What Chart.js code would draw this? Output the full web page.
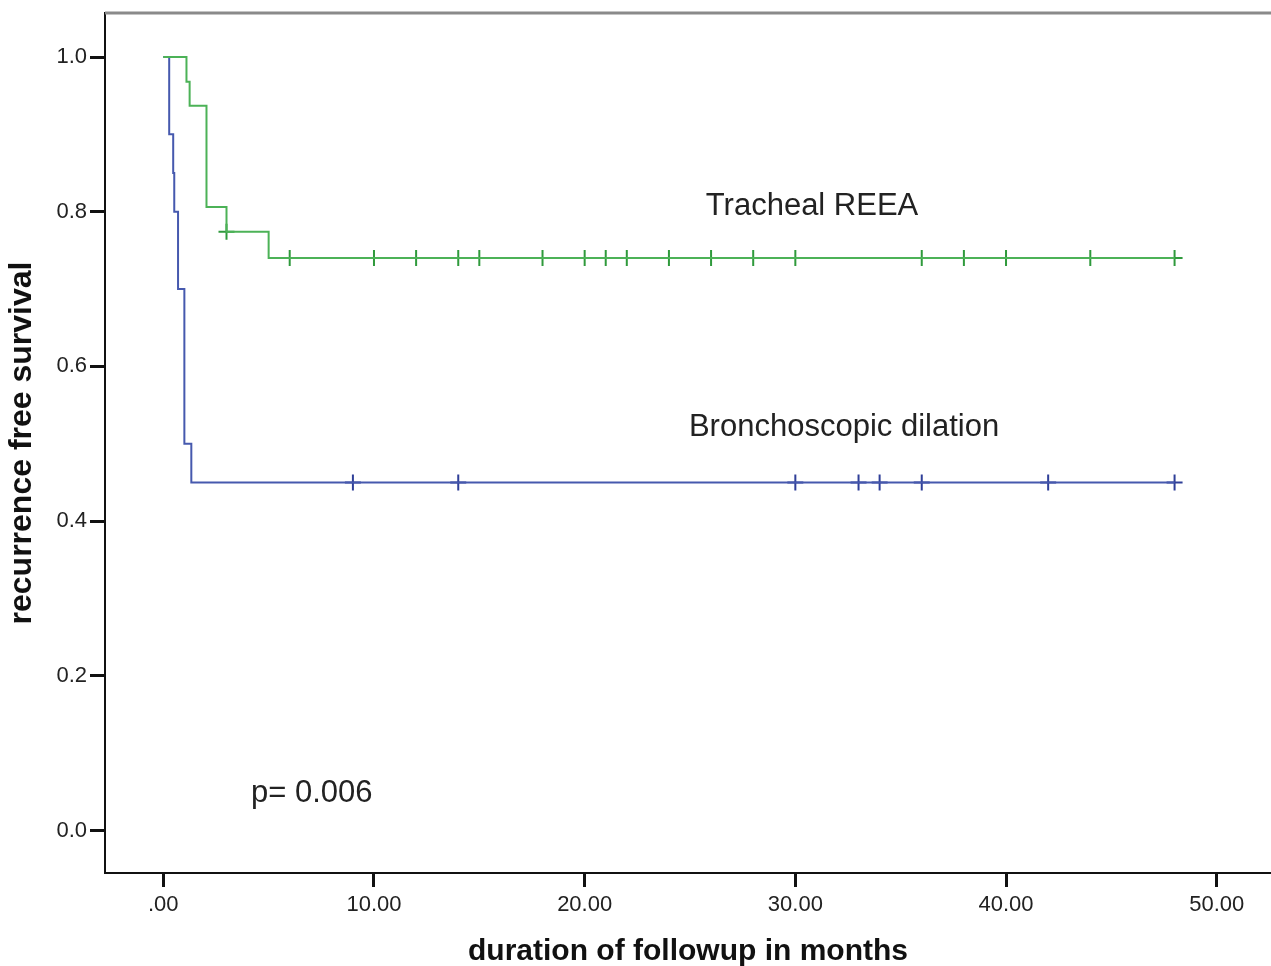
<!DOCTYPE html>
<html>
<head>
<meta charset="utf-8">
<script src="https://cdn.jsdelivr.net/npm/chart.js@4"></script>
<style>
  html, body { margin: 0; padding: 0; background: #fff; }
  canvas { display: block; }
</style>
</head>
<body>
<canvas id="kmChart" width="1271" height="966"></canvas>
<script>
// Kaplan-Meier steps
const reeaTimes = [0, 1.1, 1.25, 2.05, 3.0, 5.0, 48];
const reeaSurv = [1.0, 0.968, 0.937, 0.806, 0.774, 0.740, 0.740];
const reeaCensorTimes = [3, 6, 10, 12, 14, 15, 18, 20, 21, 22, 24, 26, 28, 30, 36, 38, 40, 44, 48];
const reeaCensorSurv = [0.774, 0.74, 0.74, 0.74, 0.74, 0.74, 0.74, 0.74, 0.74, 0.74, 0.74, 0.74, 0.74, 0.74, 0.74, 0.74, 0.74, 0.74, 0.74];

const dilTimes = [0, 0.28, 0.47, 0.52, 0.7, 1.0, 1.33, 48];
const dilSurv = [1.0, 0.90, 0.85, 0.80, 0.70, 0.50, 0.45, 0.45];
const dilCensorTimes = [9, 14, 30, 33, 34, 36, 42, 48];
const dilCensorSurv = [0.45, 0.45, 0.45, 0.45, 0.45, 0.45, 0.45, 0.45];

const xTicks = [0, 10, 20, 30, 40, 50];
const yTicks = [0, 0.2, 0.4, 0.6, 0.8, 1.0];

const labels = [
  { text: 'Tracheal REEA', x: 25.75, y: 0.807 },
  { text: 'Bronchoscopic dilation', x: 24.95, y: 0.521 },
  { text: 'p= 0.006', x: 4.16, y: 0.048 }
];

const GREEN = '#4cb257', GREEN_MARK = '#2f9a3c';
const BLUE = '#4659ae', BLUE_MARK = '#2f3f98';
const FONT = '"Liberation Sans", Arial, sans-serif';

const pts = (xs, ys) => xs.map((x, i) => ({ x, y: ys[i] }));

const extras = {
  id: 'extras',
  beforeDatasetsDraw(chart) {
    const { ctx, chartArea: a } = chart;
    ctx.save();
    ctx.strokeStyle = '#8a8a8a';
    ctx.lineWidth = 3;
    ctx.beginPath();
    ctx.moveTo(a.left, a.top);
    ctx.lineTo(a.right, a.top);
    ctx.stroke();
    ctx.restore();
  },
  afterDatasetsDraw(chart) {
    const { ctx, scales } = chart;
    ctx.save();
    ctx.fillStyle = '#222';
    ctx.font = '31px ' + FONT;
    ctx.textAlign = 'left';
    ctx.textBaseline = 'middle';
    labels.forEach(l => ctx.fillText(l.text, scales.x.getPixelForValue(l.x), scales.y.getPixelForValue(l.y)));
    ctx.restore();
  }
};

new Chart(document.getElementById('kmChart').getContext('2d'), {
  type: 'line',
  data: {
    datasets: [
      { data: pts(reeaTimes, reeaSurv), borderColor: GREEN, borderWidth: 2, stepped: 'before', pointRadius: 0, fill: false },
      { data: pts(dilTimes, dilSurv), borderColor: BLUE, borderWidth: 2, stepped: 'before', pointRadius: 0, fill: false },
      { data: pts(reeaCensorTimes, reeaCensorSurv), showLine: false, pointStyle: 'cross', pointRadius: 8, borderWidth: 2, borderColor: GREEN_MARK },
      { data: pts(dilCensorTimes, dilCensorSurv), showLine: false, pointStyle: 'cross', pointRadius: 8, borderWidth: 2, borderColor: BLUE_MARK }
    ]
  },
  options: {
    responsive: false,
    animation: false,
    devicePixelRatio: 1,
    layout: { autoPadding: false, padding: { top: 13, left: 0, right: 0, bottom: 0 } },
    plugins: { legend: { display: false }, tooltip: { enabled: false } },
    scales: {
      x: {
        type: 'linear',
        min: -2.767,
        max: 52.577,
        afterBuildTicks: s => { s.ticks = xTicks.map(v => ({ value: v })); },
        afterFit: s => { s.height = 93; s.paddingLeft = 0; s.paddingRight = 0; },
        ticks: {
          color: '#222', padding: 5, maxRotation: 0,
          font: { family: FONT, size: 22 },
          callback: v => v === 0 ? '.00' : v.toFixed(2)
        },
        grid: { drawOnChartArea: false, drawTicks: true, tickLength: 14, tickColor: '#111', tickWidth: 3 },
        border: { display: true, color: '#111', width: 2 },
        title: {
          display: true, text: 'duration of followup in months', color: '#111',
          font: { family: FONT, size: 30, weight: 'bold', lineHeight: 1 },
          padding: { top: 0, bottom: -1 }
        }
      },
      y: {
        type: 'linear',
        min: -0.055,
        max: 1.0569,
        afterBuildTicks: s => { s.ticks = yTicks.map(v => ({ value: v })); },
        afterFit: s => { s.width = 105; s.paddingTop = 0; s.paddingBottom = 0; },
        ticks: {
          color: '#222', padding: 3,
          font: { family: FONT, size: 22 },
          callback: v => v.toFixed(1)
        },
        grid: { drawOnChartArea: false, drawTicks: true, tickLength: 15, tickColor: '#111', tickWidth: 3 },
        border: { display: true, color: '#111', width: 2 },
        title: {
          display: true, text: 'recurrence free survival', color: '#111',
          font: { family: FONT, size: 32, weight: 'bold', lineHeight: 1 },
          padding: { top: 6, bottom: 0 }
        }
      }
    }
  },
  plugins: [extras]
});
</script>
</body>
</html>
